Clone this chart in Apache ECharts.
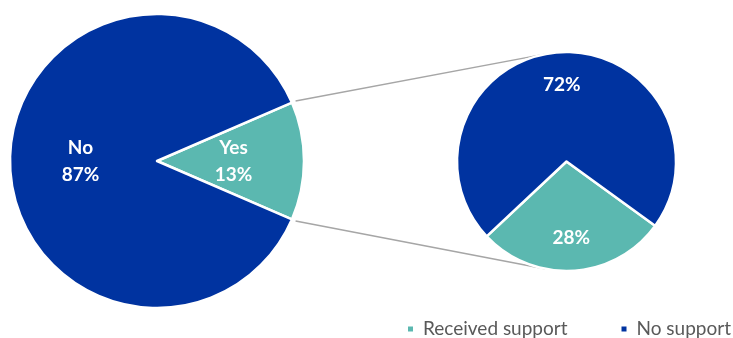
<!DOCTYPE html>
<html>
<head>
<meta charset="utf-8">
<script src="https://cdn.jsdelivr.net/npm/echarts@6/dist/echarts.min.js"></script>
<style>
  html, body { margin: 0; padding: 0; background: #ffffff; }
  #chart { width: 733px; height: 338px; }
</style>
</head>
<body>
<div id="chart"></div>
<script>
// Overall split and the breakdown of the "Yes" slice
const overallLabels = ['Yes', 'No'];
const overallValues = [13, 87];
const breakdownLabels = ['Received support', 'No support'];
const breakdownValues = [28, 72];

const TEAL = '#5BB8B0';
const NAVY = '#0033A0';
const FONT = 'Lato, Carlito, "Liberation Sans", sans-serif';

// Pie geometry (pixels)
const main = { cx: 157, cy: 161, r: 147 };
const side = { cx: 566.5, cy: 161.5, r: 109.5 };

const chart = echarts.init(document.getElementById('chart'), null, { renderer: 'canvas' });

const overallData = overallLabels.map((n, i) => ({
  name: n, value: overallValues[i], itemStyle: { color: i === 0 ? TEAL : NAVY }
}));
const breakdownData = breakdownLabels.map((n, i) => ({
  name: n, value: breakdownValues[i], itemStyle: { color: i === 0 ? TEAL : NAVY }
}));

// The highlighted slice is centred on 3 o'clock
const total = overallValues.reduce((a, b) => a + b, 0);
const halfAngle = overallValues[0] / total * Math.PI;
const mainStart = halfAngle * 180 / Math.PI;

// Connector lines: from the slice's outer corners, tangent to the side pie
function connector(sign) {
  const gap = 4;
  const px = main.cx + (main.r + gap) * Math.cos(halfAngle);
  const py = main.cy + sign * (main.r + gap) * Math.sin(halfAngle);
  const dx = side.cx - px, dy = side.cy - py;
  const d = Math.sqrt(dx * dx + dy * dy);
  const theta = Math.atan2(dy, dx);
  const alpha = Math.asin(side.r / d);
  const dir = theta + sign * alpha;
  const len = Math.sqrt(d * d - side.r * side.r);
  return {
    type: 'line',
    z: 0,
    shape: { x1: px, y1: py, x2: px + len * Math.cos(dir), y2: py + len * Math.sin(dir) },
    style: { stroke: '#A6A6A6', lineWidth: 1.5 }
  };
}

const labelStyle = {
  color: '#ffffff',
  fontFamily: FONT,
  fontWeight: 'bold',
  fontSize: 19,
  lineHeight: 27
};

chart.setOption({
  animation: false,
  graphic: [connector(-1), connector(1)],
  legend: {
    data: breakdownLabels,
    left: 406,
    top: 318,
    width: 327,
    padding: 0,
    icon: 'rect',
    itemWidth: 7,
    itemHeight: 7,
    itemGap: 52,
    selectedMode: false,
    textStyle: {
      color: '#595959',
      fontFamily: FONT,
      fontSize: 19,
      lineHeight: 22,
      padding: [0, 0, 0, 4]
    }
  },
  series: [
    {
      type: 'pie',
      center: [main.cx, main.cy],
      radius: [0, main.r],
      startAngle: mainStart,
      clockwise: true,
      silent: true,
      itemStyle: { borderColor: '#ffffff', borderWidth: 2.5 },
      label: {
        position: 'inside',
        formatter: p => p.name + '\n' + p.value + '%',
        ...labelStyle
      },
      labelLine: { show: false },
      emphasis: { disabled: true },
      data: overallData
    },
    {
      type: 'pie',
      center: [side.cx, side.cy],
      radius: [0, side.r],
      startAngle: -36,
      clockwise: true,
      silent: true,
      itemStyle: { borderColor: '#ffffff', borderWidth: 2.5 },
      label: { show: false },
      labelLine: { show: false },
      emphasis: { disabled: true },
      data: breakdownData
    },
    {
      // label ring: places the side pie's labels further out from the centre
      type: 'pie',
      center: [side.cx, side.cy],
      radius: [side.r * 0.34, side.r],
      startAngle: -36,
      clockwise: true,
      silent: true,
      itemStyle: { color: 'rgba(0,0,0,0)' },
      label: {
        position: 'inside',
        formatter: p => p.value + '%',
        ...labelStyle
      },
      labelLine: { show: false },
      emphasis: { disabled: true },
      data: breakdownLabels.map((n, i) => ({ name: n, value: breakdownValues[i] }))
    }
  ]
});
</script>
</body>
</html>
